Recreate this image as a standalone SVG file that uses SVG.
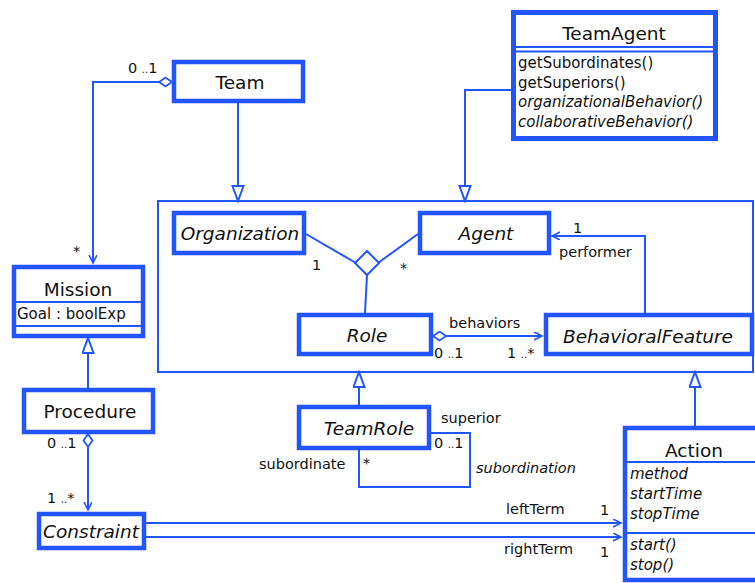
<svg xmlns="http://www.w3.org/2000/svg" width="755" height="583" viewBox="0 0 755 583">
<defs>
<style>
.box{fill:#fff;stroke:#2355ff;stroke-width:4.5}
.sep{stroke:#2355ff;stroke-width:1.8;fill:none}
.ln{fill:none;stroke:#2355ff;stroke-width:2}
.t{font-family:"DejaVu Sans","Liberation Sans",sans-serif;fill:#111}
.name{font-size:18.5px;text-anchor:middle}
.it{font-style:italic}
.mem{font-size:15px}
.lbl{font-size:14.5px}
.d{font-size:10px}
</style>
<marker id="tri" markerUnits="userSpaceOnUse" markerWidth="18" markerHeight="14" refX="16" refY="6.5" orient="auto">
<path d="M1,1 L16,6.5 L1,12 Z" fill="#fff" stroke="#2355ff" stroke-width="2"/>
</marker>
<marker id="arr" markerUnits="userSpaceOnUse" markerWidth="10" markerHeight="10" refX="8" refY="4" orient="auto">
<path d="M0,0 L8,4 L0,8" fill="none" stroke="#2355ff" stroke-width="1.6"/>
</marker>
<marker id="dia" markerUnits="userSpaceOnUse" markerWidth="16" markerHeight="12" refX="1" refY="5.5" orient="auto">
<path d="M1,5.5 L7.5,1 L14,5.5 L7.5,10 Z" fill="#fff" stroke="#2355ff" stroke-width="1.8"/>
</marker>
</defs>
<rect width="755" height="583" fill="#fff"/>

<g id="package">
<rect x="158" y="201" width="595" height="171" class="ln"/>
</g>

<g id="connectors">
<path class="ln" d="M172,82 L93,82 L93,263" marker-start="url(#dia)" marker-end="url(#arr)"/>
<path class="ln" d="M238,103 L238,201" marker-end="url(#tri)"/>
<path class="ln" d="M511,90 L465,90 L465,201" marker-end="url(#tri)"/>
<path class="ln" d="M306,234 L356,263"/>
<path class="ln" d="M418,234 L378,263"/>
<polygon points="367,251 379,263 367,275 355,263" fill="#fff" stroke="#2355ff" stroke-width="2"/>
<path class="ln" d="M367,275 L365,313"/>
<path class="ln" d="M433,336 L542,336" marker-start="url(#dia)" marker-end="url(#arr)"/>
<path class="ln" d="M645,313 L645,236 L552,236" marker-end="url(#arr)"/>
<path class="ln" d="M359,405 L359,372" marker-end="url(#tri)"/>
<path class="ln" d="M430,433 L470,433 L470,487 L359,487 L359,450"/>
<path class="ln" d="M695,426 L695,372" marker-end="url(#tri)"/>
<path class="ln" d="M88,388 L88,338" marker-end="url(#tri)"/>
<path class="ln" d="M88,434 L88,510" marker-start="url(#dia)" marker-end="url(#arr)"/>
<path class="ln" d="M146,523 L621,523" marker-end="url(#arr)"/>
<path class="ln" d="M146,537 L621,537" marker-end="url(#arr)"/>
</g>

<g id="labels" class="t lbl">
<text x="128" y="73">0 <tspan class="d">..</tspan>1</text>
<text x="73" y="256">*</text>
<text x="312" y="270">1</text>
<text x="400" y="273">*</text>
<text x="573" y="233">1</text>
<text x="559" y="257">performer</text>
<text x="449" y="328">behaviors</text>
<text x="434" y="358">0 <tspan class="d">..</tspan>1</text>
<text x="507" y="358">1 <tspan class="d">..</tspan>*</text>
<text x="441" y="423">superior</text>
<text x="434" y="448">0 <tspan class="d">..</tspan>1</text>
<text x="363" y="468">*</text>
<text x="259" y="469">subordinate</text>
<text x="476" y="473" class="it">subordination</text>
<text x="47" y="448">0 <tspan class="d">..</tspan>1</text>
<text x="47" y="503">1 <tspan class="d">..</tspan>*</text>
<text x="506" y="514">leftTerm</text>
<text x="600" y="515">1</text>
<text x="504" y="554">rightTerm</text>
<text x="600" y="557">1</text>
</g>

<g id="Team">
<rect class="box" x="174" y="62" width="129" height="39"/>
<text class="t name" x="240" y="89">Team</text>
</g>

<g id="TeamAgent">
<rect class="box" x="513.5" y="12.5" width="202" height="126" style="stroke-width:5"/>
<line class="sep" x1="516" y1="47" x2="713" y2="47"/>
<line class="sep" x1="516" y1="51.5" x2="713" y2="51.5"/>
<text class="t name" x="614" y="40">TeamAgent</text>
<text class="t mem" x="518" y="68">getSubordinates()</text>
<text class="t mem" x="518" y="88">getSuperiors()</text>
<text class="t mem it" x="518" y="107">organizationalBehavior()</text>
<text class="t mem it" x="518" y="127">collaborativeBehavior()</text>
</g>

<g id="Organization">
<rect class="box" x="174" y="213" width="130" height="40"/>
<text class="t name it" x="240" y="240">Organization</text>
</g>

<g id="Agent">
<rect class="box" x="420" y="213" width="129" height="40"/>
<text class="t name it" x="486" y="240">Agent</text>
</g>

<g id="Role">
<rect class="box" x="299" y="315" width="132" height="39"/>
<text class="t name it" x="367" y="342">Role</text>
</g>

<g id="BehavioralFeature">
<rect class="box" x="546" y="315" width="206" height="39"/>
<text class="t name it" x="648" y="343">BehavioralFeature</text>
</g>

<g id="TeamRole">
<rect class="box" x="299" y="407" width="130" height="41"/>
<text class="t name it" x="369" y="435">TeamRole</text>
</g>

<g id="Action">
<rect class="box" x="625" y="428" width="140" height="152"/>
<line class="sep" x1="627" y1="462" x2="755" y2="462"/>
<line class="sep" x1="627" y1="533" x2="755" y2="533"/>
<text class="t name" x="694" y="457">Action</text>
<text class="t mem it" x="630" y="479">method</text>
<text class="t mem it" x="630" y="499">startTime</text>
<text class="t mem it" x="630" y="519">stopTime</text>
<text class="t mem it" x="630" y="550">start()</text>
<text class="t mem it" x="630" y="570">stop()</text>
</g>

<g id="Mission">
<rect class="box" x="14" y="267" width="129" height="69"/>
<line class="sep" x1="16" y1="302" x2="141" y2="302"/>
<line class="sep" x1="16" y1="326" x2="141" y2="326"/>
<text class="t name" x="78" y="296">Mission</text>
<text class="t mem" x="17" y="319">Goal : boolExp</text>
</g>

<g id="Procedure">
<rect class="box" x="24" y="390" width="129" height="42"/>
<text class="t name" x="90" y="418">Procedure</text>
</g>

<g id="Constraint">
<rect class="box" x="39" y="514" width="105" height="34"/>
<text class="t name it" x="91" y="538">Constraint</text>
</g>
</svg>
